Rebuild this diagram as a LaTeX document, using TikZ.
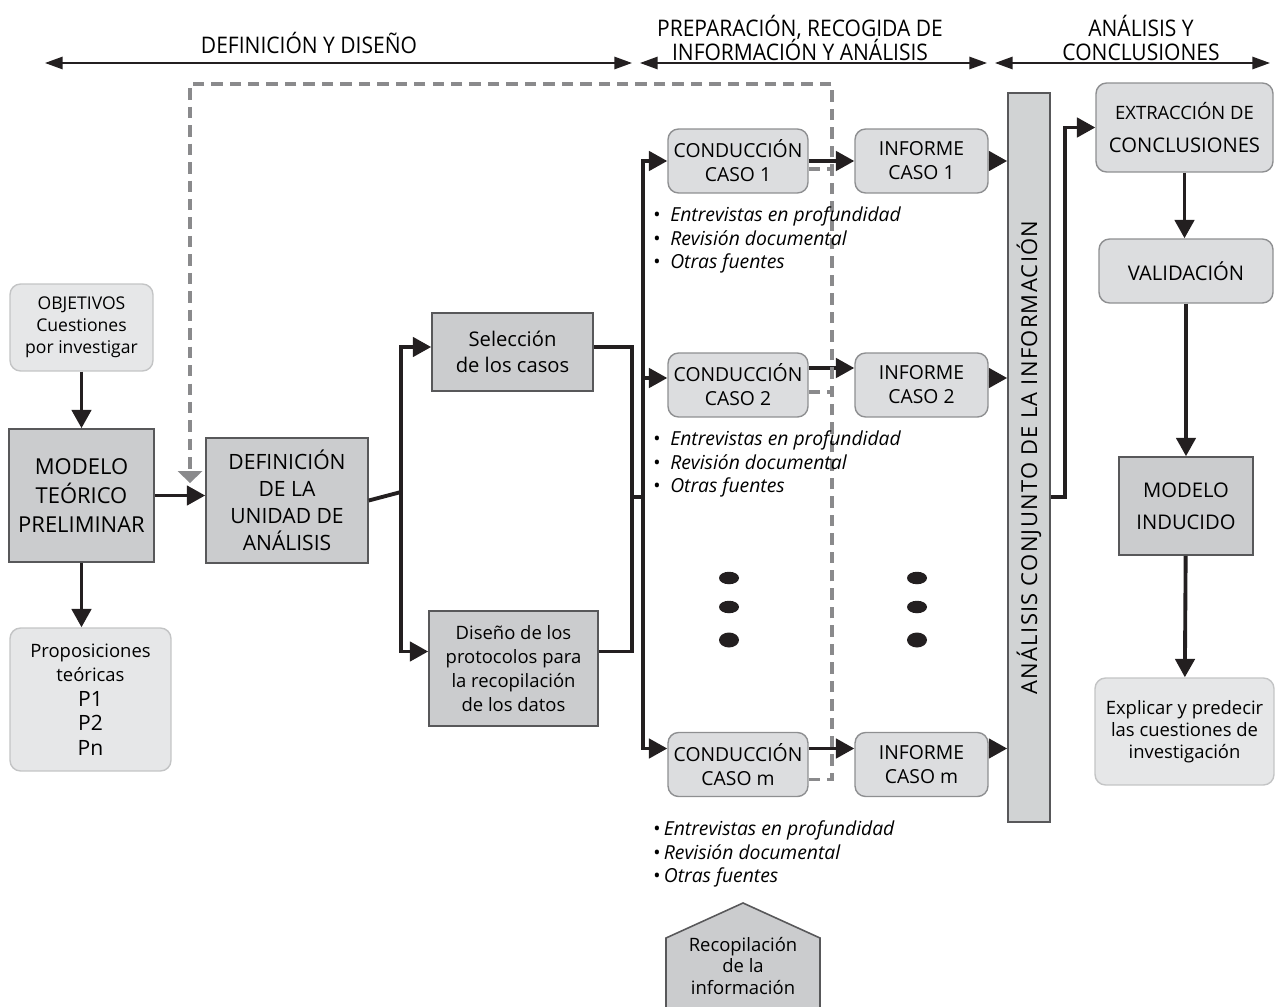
\documentclass[tikz,border=0pt]{standalone}
\usepackage{fontspec}
\setmainfont{Open Sans}
\newfontfamily\estrecha[FakeStretch=0.92]{Open Sans}
\newfontfamily\espaciada[LetterSpace=6]{Open Sans}
\usetikzlibrary{arrows.meta}

\definecolor{negro}{HTML}{231F20}
\definecolor{borde}{HTML}{58585A}
\definecolor{bordec}{HTML}{8E8F91}
\definecolor{grisosc}{HTML}{CBCCCE}
\definecolor{grismed}{HTML}{DCDDDF}
\definecolor{grisclaro}{HTML}{E6E7E8}
\definecolor{grisbarra}{HTML}{D1D3D4}
\definecolor{rayas}{HTML}{8A8A8C}

\begin{document}
\begin{tikzpicture}[x=0.02cm,y=-0.02cm,line join=miter,
		caja/.style={draw=borde,fill=grisosc,line width=0.9pt,align=center,inner sep=1pt},
		cajar/.style={draw=bordec,fill=grismed,line width=0.8pt,rounded corners=6pt,align=center,inner sep=1pt},
		cajac/.style={cajar,fill=grisclaro,draw=grisclaro!85!black},
		flecha/.style={draw=negro,line width=2.2pt,-{Triangle[length=10.5pt,width=11pt]}},
		trazo/.style={draw=negro,line width=2.2pt},
		rango/.style={draw=negro,line width=1pt,{Triangle[length=10pt,width=7pt]}-{Triangle[length=10pt,width=7pt]}},
		rayada/.style={draw=rayas,line width=2pt,dash pattern=on 6.5pt off 4pt},
		lista/.style={anchor=west,align=left,inner sep=0pt,font=\fontsize{11}{13.6}\selectfont},
		titulo/.style={align=center,inner sep=0pt,font=\estrecha\fontsize{13}{14}\selectfont},
		]
		\useasboundingbox (0,0) rectangle (1275,1007);

		% cabecera
		\draw[rango] (45,63) -- (632,63);
		\draw[rango] (640,63) -- (987,63);
		\draw[rango] (995,63) -- (1270,63);
		\node[titulo] (fase1) at (309,43) {DEFINICIÓN Y DISEÑO};
		\node[titulo] (fase2) at (800,38) {PREPARACIÓN, RECOGIDA DE\\INFORMACIÓN Y ANÁLISIS};
		\node[titulo] (fase3) at (1141,38) {ANÁLISIS Y\\CONCLUSIONES};

		% definicion y diseno
		\node[cajac,minimum width=2.86cm,minimum height=1.74cm,font=\fontsize{10}{12.5}\selectfont] (objetivos) at (81.5,327.5) {OBJETIVOS\\Cuestiones\\por investigar};
		\node[caja,minimum width=2.9cm,minimum height=2.66cm,font=\fontsize{12.5}{16.4}\selectfont] (modelo) at (81.5,495.5) {MODELO\\TEÓRICO\\PRELIMINAR};
		\node[cajac,minimum width=3.22cm,minimum height=2.86cm,font=\fontsize{10.5}{14}\selectfont] (prop) at (90.5,699.5) {Proposiciones\\teóricas\\{\fontsize{12}{14}\selectfont P1}\\{\fontsize{12}{14}\selectfont P2}\\{\fontsize{12}{14}\selectfont Pn}};
		\node[caja,minimum width=3.24cm,minimum height=2.5cm,font=\fontsize{12}{15.3}\selectfont] (unidad) at (287,500.5) {DEFINICIÓN\\DE LA\\UNIDAD DE\\ANÁLISIS};
		\node[caja,minimum width=3.22cm,minimum height=1.56cm,font=\fontsize{11.5}{15}\selectfont] (seleccion) at (512.5,352) {Selección\\de los casos};
		\node[caja,minimum width=3.38cm,minimum height=2.3cm,font=\fontsize{10.5}{13.8}\selectfont] (protocolos) at (513.5,668.5) {Diseño de los\\protocolos para\\la recopilación\\de los datos};

		\draw[flecha] (objetivos) -- (modelo);
		\draw[flecha] (modelo.south) -- (modelo.south |- prop.north);
		\draw[flecha] (modelo.east) -- (modelo.east -| unidad.west);
		\coordinate (rama) at (401,492);
		\draw[trazo] (unidad.east) -- (rama);
		\draw[flecha] (rama) |- ([yshift=0.1cm]seleccion.west);
		\draw[flecha] (rama) |- ([yshift=0.34cm]protocolos.west);
		\coordinate (union) at (632,497);
		\draw[trazo] ([yshift=0.1cm]seleccion.east) -| (union) |- ([yshift=0.34cm]protocolos.east);
		\coordinate (tronco) at (643,497);
		\draw[trazo] (union) -- (tronco);

		% casos
		\foreach \c/\y in {1/161,2/385,m/764.5}{
			\node[cajar,minimum width=2.8cm,minimum height=1.28cm,font=\fontsize{11}{13.6}\selectfont] (cond\c) at (738,\y) {CONDUCCIÓN\\CASO \c};
			\node[cajar,minimum width=2.66cm,minimum height=1.28cm,font=\fontsize{11}{13.6}\selectfont] (inf\c) at (921.5,\y) {INFORME\\CASO \c};
		}
		\node[draw=borde,fill=grisbarra,line width=0.9pt,minimum width=0.84cm,minimum height=14.58cm,inner sep=0pt] (barra) at (1029,457.5) {};
		\node[rotate=90,font=\espaciada\fontsize{12.5}{14}\selectfont] (barratxt) at (barra.center) {ANÁLISIS CONJUNTO DE LA INFORMACIÓN};

		\foreach \c/\a/\b in {1/0/0,2/0.14/0.34,m/0.32/0.32}{
			\draw[flecha] (tronco) |- ([yshift=\a cm]cond\c.west);
			\draw[flecha] ([yshift=\b cm]cond\c.east) -- ([yshift=\b cm]inf\c.west);
			\draw[flecha] ([yshift=\a cm]inf\c.east) -- ([yshift=\a cm]inf\c.east -| barra.west);
		}

		% retroalimentacion
		\coordinate (esq1) at (832,84);
		\coordinate (esq2) at (190,84);
		\coordinate (punta) at (190,483);
		\draw[rayada] ([yshift=-0.3cm]condm.east) -| (esq1) -- (esq2) -- ([yshift=0.25cm]punta);
		\draw[rayada] ([yshift=-0.16cm]cond1.east) -- ([yshift=-0.16cm]cond1.east -| esq1);
		\draw[rayada] ([yshift=-0.14cm]cond2.east) -- ([yshift=-0.14cm]cond2.east -| esq1);
		\fill[rayas] (punta) -- ++(-12.5,-12) -- ++(25,0) -- cycle;

		\node[lista] (fuentes1) at (653,240) {\textbullet\enspace\textit{Entrevistas en profundidad}\\\textbullet\enspace\textit{Revisión documental}\\\textbullet\enspace\textit{Otras fuentes}};
		\node[lista] (fuentes2) at (653,464) {\textbullet\enspace\textit{Entrevistas en profundidad}\\\textbullet\enspace\textit{Revisión documental}\\\textbullet\enspace\textit{Otras fuentes}};
		\node[lista] (fuentesm) at (653,854) {\textbullet\,\textit{Entrevistas en profundidad}\\\textbullet\,\textit{Revisión documental}\\\textbullet\,\textit{Otras fuentes}};

		\foreach \x in {729,917}
		\foreach \y in {578,607}
		\fill[negro] (\x,\y) ellipse [x radius=0.2cm, y radius=0.125cm];
		\foreach \x in {729,917}
		\fill[negro] (\x,640) ellipse [x radius=0.2cm, y radius=0.15cm];

		\filldraw[fill=grisosc,draw=borde,line width=0.9pt] (666,1012) -- (666,938) -- (743,903) -- (820,938) -- (820,1012);
		\node[align=center,font=\fontsize{10.5}{12.5}\selectfont] (recop) at (743,966) {Recopilación\\de la\\información};

		% conclusiones
		\node[cajar,minimum width=3.54cm,minimum height=1.78cm,font=\fontsize{11.5}{18.7}\selectfont] (extraccion) at (1184.5,127.5) {{\fontsize{10.5}{18.7}\selectfont EXTRACCIÓN DE}\\CONCLUSIONES};
		\node[cajar,minimum width=3.48cm,minimum height=1.28cm,font=\fontsize{11.5}{14}\selectfont] (validacion) at (1186,271) {VALIDACIÓN};
		\node[caja,minimum width=2.68cm,minimum height=1.96cm,font=\fontsize{11.5}{18}\selectfont] (inducido) at (1186,506) {MODELO\\INDUCIDO};
		\node[cajac,minimum width=3.58cm,minimum height=2.14cm,font=\fontsize{10.5}{12.5}\selectfont] (explicar) at (1184.5,731.5) {Explicar y predecir\\las cuestiones de\\investigación};

		\coordinate (salida) at (1065,497);
		\draw[flecha] (salida -| barra.east) -- (salida) |- (extraccion.west);
		\draw[flecha] (extraccion.south) -- (extraccion.south |- validacion.north);
		\draw[flecha] (validacion) -- (inducido);
		\draw[flecha] (inducido) -- (explicar);
\end{tikzpicture}
\end{document}
